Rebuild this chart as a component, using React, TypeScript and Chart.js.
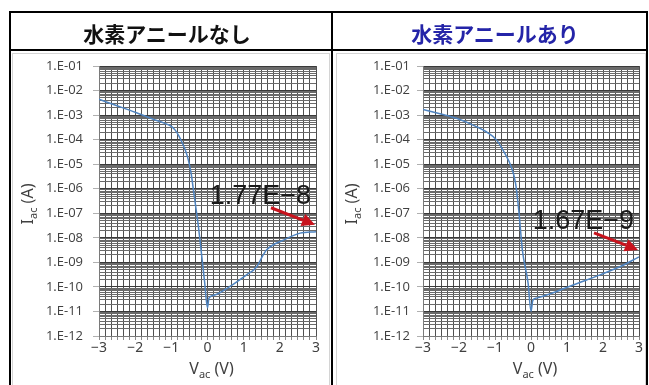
import React, { useEffect, useRef } from "react";
import { Chart, registerables } from "chart.js";

Chart.register(...registerables);

// ---- data ----
const panelTitles = ["水素アニールなし", "水素アニールあり"];

const xTickValues = [-3, -2, -1, 0, 1, 2, 3];
const xTickLabels = ["−3", "−2", "−1", "0", "1", "2", "3"];
const yTickExponents = [-12, -11, -10, -9, -8, -7, -6, -5, -4, -3, -2, -1];
const yTickLabels = ["1.E-12", "1.E-11", "1.E-10", "1.E-09", "1.E-08", "1.E-07", "1.E-06", "1.E-05", "1.E-04", "1.E-03", "1.E-02", "1.E-01"];

// without hydrogen anneal
const vNoAnneal = [-3, -2.5, -2, -1.5, -1.2, -1.0, -0.9, -0.8, -0.7, -0.6, -0.53, -0.45, -0.39, -0.3, -0.25, -0.2, -0.08, 0, 0.04, 0.2, 0.6, 1.08, 1.35, 1.54, 1.63, 2.1, 2.56, 3.0];
const iNoAnneal = [4.4e-3, 2.4e-3, 1.3e-3, 6.8e-4, 4.7e-4, 3.5e-4, 2.5e-4, 1.5e-4, 7.5e-5, 3.3e-5, 1.5e-5, 4.0e-6, 9.0e-7, 1.0e-7, 2.8e-8, 6.3e-9, 1.6e-10, 1.4e-11, 3.5e-11, 4.7e-11, 1.0e-10, 3.1e-10, 6.3e-10, 2.0e-9, 3.2e-9, 8.1e-9, 1.55e-8, 1.77e-8];

// with hydrogen anneal
const vAnneal = [-3, -2.5, -2.07, -1.52, -1.2, -0.96, -0.73, -0.55, -0.43, -0.34, -0.24, -0.08, 0, 0.05, 0.15, 0.5, 1.17, 1.92, 2.47, 3.0];
const iAnneal = [1.7e-3, 1.1e-3, 7.4e-4, 3.4e-4, 1.9e-4, 9.8e-5, 2.8e-5, 7.9e-6, 1.7e-6, 1.35e-7, 3.2e-9, 1.4e-10, 1.0e-11, 2.8e-11, 3.5e-11, 5.0e-11, 1.2e-10, 3.1e-10, 6.6e-10, 1.67e-9];

const noteLabels = ["1.77E−8", "1.67E−9"];
const noteValues = [1.77e-8, 1.67e-9];
const noteV = 3;

// ---- helpers ----
const X_MIN = -3;
const X_MAX = 3;
const X_GRID_PER_UNIT = 6;

function xGridTicks() {
  const out: { value: number }[] = [];
  const n = (X_MAX - X_MIN) * X_GRID_PER_UNIT;
  for (let k = 0; k <= n; k++) out.push({ value: X_MIN + k / X_GRID_PER_UNIT });
  return out;
}

function yGridTicks() {
  const out: { value: number }[] = [];
  for (let e = yTickExponents[0]; e <= yTickExponents[yTickExponents.length - 1]; e++) {
    const last = e === yTickExponents[yTickExponents.length - 1];
    for (let m = 1; m <= (last ? 1 : 9); m++) out.push({ value: m * Math.pow(10, e) });
  }
  return out;
}

function isMajor(v: number) {
  const e = Math.log10(v);
  return Math.abs(e - Math.round(e)) < 1e-6;
}

function drawSubText(ctx: CanvasRenderingContext2D, main: string, sub: string, rest: string, cx: number, baseline: number) {
  const big = '16px "Noto Sans", sans-serif';
  const small = '11px "Noto Sans", sans-serif';
  ctx.font = big;
  const w1 = ctx.measureText(main).width;
  const w3 = ctx.measureText(rest).width;
  ctx.font = small;
  const w2 = ctx.measureText(sub).width;
  let x = cx - (w1 + w2 + w3) / 2;
  ctx.fillStyle = "#404040";
  ctx.textAlign = "left";
  ctx.textBaseline = "alphabetic";
  ctx.font = big;
  ctx.fillText(main, x, baseline);
  x += w1;
  ctx.font = small;
  ctx.fillText(sub, x, baseline + 4);
  x += w2;
  ctx.font = big;
  ctx.fillText(rest, x, baseline);
}

const annotPlugin = {
  id: "annot",
  afterDraw(chart: any, _args: any, opts: any) {
    const { ctx, chartArea: ca, scales } = chart;
    ctx.save();
    drawSubText(ctx, "V", "ac", " (V)", (ca.left + ca.right) / 2 + 4, ca.bottom + 38);
    ctx.translate(ca.left - 66, (ca.top + ca.bottom) / 2 + 3);
    ctx.rotate(-Math.PI / 2);
    drawSubText(ctx, "I", "ac", " (A)", 0, 0);
    ctx.restore();

    const px = scales.x.getPixelForValue(opts.v);
    const py = scales.y.getPixelForValue(opts.value);
    ctx.save();
    ctx.font = '27px "Liberation Sans", Arial, sans-serif';
    ctx.fillStyle = "#1a1a1a";
    ctx.textAlign = "right";
    ctx.textBaseline = "alphabetic";
    ctx.fillText(opts.label, px - 5, py - 28);

    const tx = px - 1;
    const ty = py - 7;
    const sx = tx - 44;
    const sy = ty - 17;
    const ang = Math.atan2(ty - sy, tx - sx);
    const headLen = 13;
    const headW = 6.5;
    const bx = tx - headLen * Math.cos(ang);
    const by = ty - headLen * Math.sin(ang);
    ctx.strokeStyle = "#c8141e";
    ctx.fillStyle = "#c8141e";
    ctx.lineWidth = 3;
    ctx.beginPath();
    ctx.moveTo(sx, sy);
    ctx.lineTo(bx, by);
    ctx.stroke();
    ctx.beginPath();
    ctx.moveTo(tx, ty);
    ctx.lineTo(bx - headW * Math.sin(ang), by + headW * Math.cos(ang));
    ctx.lineTo(bx + headW * Math.sin(ang), by - headW * Math.cos(ang));
    ctx.closePath();
    ctx.fill();
    ctx.restore();
  },
};

type PanelProps = {
  v: number[];
  i: number[];
  label: string;
  value: number;
  left: number;
  width: number;
  padRight: number;
  labelPad: number;
};

function Panel({ v, i, label, value, left, width, padRight, labelPad }: PanelProps) {
  const ref = useRef<HTMLCanvasElement>(null);
  const height = 332;
  useEffect(() => {
    if (!ref.current) return;
    const chart = new Chart(ref.current, {
      type: "line",
      data: {
        datasets: [
          {
            data: v.map((x, k) => ({ x, y: i[k] })),
            borderColor: "#4f84c0",
            borderWidth: 1.5,
            pointRadius: 0,
            cubicInterpolationMode: "monotone",
            fill: false,
          },
        ],
      },
      options: {
        responsive: false,
        animation: false,
        devicePixelRatio: 1,
        layout: { padding: { left: 0, right: padRight, top: 13, bottom: 0 } },
        plugins: {
          legend: { display: false },
          tooltip: { enabled: false },
          annot: { label, value, v: noteV },
        } as any,
        scales: {
          x: {
            type: "linear",
            min: X_MIN,
            max: X_MAX,
            afterBuildTicks: (s: any) => {
              s.ticks = xGridTicks();
            },
            afterFit: (s: any) => {
              s.height = 49;
              s.paddingLeft = 0;
              s.paddingRight = 0;
            },
            ticks: {
              autoSkip: false,
              maxRotation: 0,
              padding: 0,
              color: "#404040",
              font: { family: '"Noto Sans", sans-serif', size: 14 },
              callback: (val: any) => {
                const k = xTickValues.findIndex((t) => Math.abs(t - Number(val)) < 1e-6);
                return k >= 0 ? xTickLabels[k] : "";
              },
            },
            grid: {
              color: "#505050",
              lineWidth: 1,
              tickLength: 4,
              tickColor: "#8a8a8a",
            },
            border: { display: true, color: "#7a7a7a" },
          },
          y: {
            type: "logarithmic",
            min: 1e-12,
            max: 1e-1,
            afterBuildTicks: (s: any) => {
              s.ticks = yGridTicks();
            },
            afterFit: (s: any) => {
              s.width = 87;
              s.paddingTop = 0;
              s.paddingBottom = 0;
            },
            ticks: {
              autoSkip: false,
              padding: labelPad,
              color: "#404040",
              font: { family: '"Open Sans", sans-serif', size: 13 },
              callback: (val: any) => {
                const n = Number(val);
                if (!isMajor(n)) return "";
                const k = yTickExponents.indexOf(Math.round(Math.log10(n)));
                return k >= 0 ? yTickLabels[k] : "";
              },
            },
            grid: {
              color: (c: any) => (c.tick && isMajor(c.tick.value) ? "#3a3a3a" : "#6a6a6a"),
              lineWidth: 1,
              tickLength: 6,
              tickColor: (c: any) => (c.tick && isMajor(c.tick.value) ? "#b0b0b0" : "rgba(0,0,0,0)"),
            },
            border: { display: true, color: "#7a7a7a" },
          },
        },
      } as any,
      plugins: [annotPlugin as any],
    });
    return () => chart.destroy();
  }, []);
  return (
    <canvas
      ref={ref}
      width={width}
      height={height}
      style={{ position: "absolute", left, top: 53, width, height }}
    />
  );
}

export default function App() {
  const headerFont = '"Noto Sans CJK JP", "Noto Sans CJK SC", sans-serif';
  return (
    <div
      style={{
        position: "absolute",
        left: 0,
        top: 0,
        width: 649,
        height: 385,
        overflow: "hidden",
        background: "#ffffff",
      }}
    >
      {/* panel frames */}
      <div style={{ position: "absolute", left: 12, top: 53, width: 318, height: 340, border: "1px solid #d4d4d4", boxSizing: "border-box" }} />
      <div style={{ position: "absolute", left: 336, top: 53, width: 310, height: 340, border: "1px solid #d4d4d4", boxSizing: "border-box" }} />

      <Panel v={vNoAnneal} i={iNoAnneal} label={noteLabels[0]} value={noteValues[0]} left={12} width={318} padRight={14} labelPad={10} />
      <Panel v={vAnneal} i={iAnneal} label={noteLabels[1]} value={noteValues[1]} left={336} width={311} padRight={8} labelPad={7} />

      {/* table lines */}
      <div style={{ position: "absolute", left: 9, top: 11, width: 639, height: 400, borderTop: "2px solid #000", borderLeft: "2px solid #000", borderRight: "2px solid #000", boxSizing: "border-box" }} />
      <div style={{ position: "absolute", left: 9, top: 49, width: 639, height: 2, background: "#000" }} />
      <div style={{ position: "absolute", left: 331, top: 11, width: 2, height: 400, background: "#000" }} />

      {/* headers */}
      <div style={{ position: "absolute", left: 11, top: 13, width: 312, height: 40, display: "flex", alignItems: "center", justifyContent: "center", fontFamily: headerFont, fontWeight: 700, fontSize: 21, color: "#111111", lineHeight: 1 }}>
        {panelTitles[0]}
      </div>
      <div style={{ position: "absolute", left: 343, top: 13, width: 304, height: 40, display: "flex", alignItems: "center", justifyContent: "center", fontFamily: headerFont, fontWeight: 700, fontSize: 21, color: "#2424a8", lineHeight: 1 }}>
        {panelTitles[1]}
      </div>
    </div>
  );
}
